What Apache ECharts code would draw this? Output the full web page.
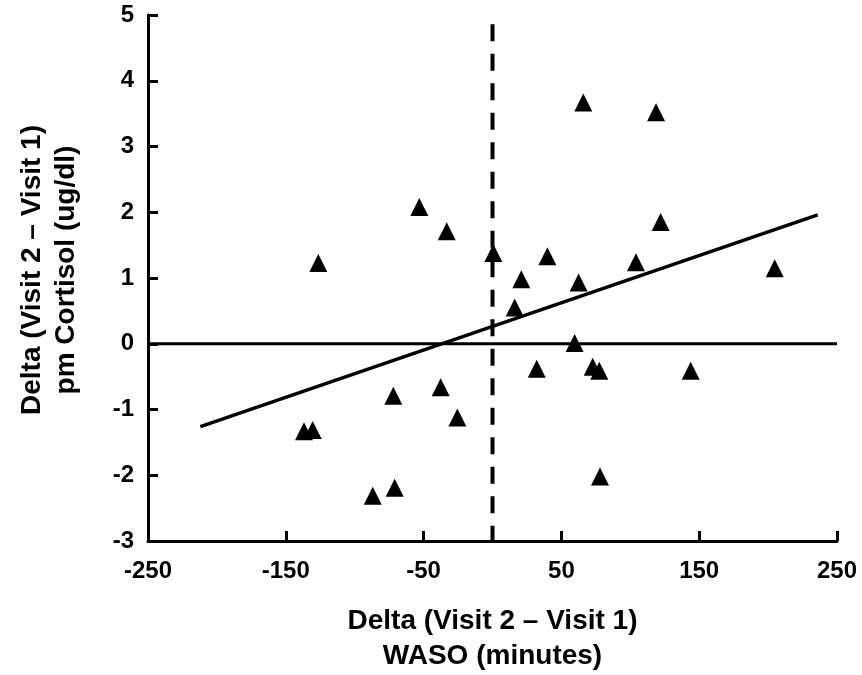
<!DOCTYPE html>
<html>
<head>
<meta charset="utf-8">
<script src="https://cdn.jsdelivr.net/npm/echarts@6/dist/echarts.min.js"></script>
<style>html,body{margin:0;padding:0;background:#fff}#c{width:862px;height:675px}</style>
</head>
<body>
<div id="c"></div>
<script>
// Data
var wasoDelta = [-126.4, -53.1, -33.2, 0.6, -136.8, -130.5, -72.0, -37.6, -25.5, -86.9, -71.0,
                 65.9, 118.7, 122.0, 39.8, 20.9, 104.1, 62.5, 16.1, 204.8, 59.6, 32.1, 72.7, 77.5, 143.8, 78.0];
var cortisolDelta = [1.23, 2.08, 1.71, 1.38, -1.33, -1.31, -0.79, -0.66, -1.12, -2.31, -2.19,
                     3.67, 3.52, 1.85, 1.33, 0.98, 1.24, 0.93, 0.55, 1.15, 0.01, -0.38, -0.35, -0.41, -0.41, -2.02];
var fitX = [-212, 236];
var fitY = [-1.26, 1.96];
var zeroLineX = [-250, 250];
var zeroLineY = [0, 0];
var dashLineX = [0, 0];
var dashLineY = [4.86, -3];
var xTicks = [-250, -150, -50, 50, 150, 250];
var yTicks = [-3, -2, -1, 0, 1, 2, 3, 4, 5];

function pairs(a, b) { return a.map(function (v, i) { return [v, b[i]]; }); }

var FONT = "'Liberation Sans', Arial, sans-serif";
var chart = echarts.init(document.getElementById('c'));
chart.setOption({
  animation: false,
  backgroundColor: '#ffffff',
  grid: { left: 148, right: 25, top: 15, bottom: 134, containLabel: false, outerBoundsMode: 'none' },
  xAxis: {
    type: 'value', min: xTicks[0], max: xTicks[xTicks.length - 1], interval: 100,
    name: 'Delta (Visit 2 \u2013 Visit 1)\nWASO (minutes)',
    nameLocation: 'middle', nameGap: 63,
    nameTextStyle: { fontFamily: FONT, fontWeight: 'bold', fontSize: 28, color: '#000', lineHeight: 35 },
    axisLine: { show: true, onZero: false, lineStyle: { color: '#000', width: 3 } },
    axisTick: { show: true, inside: true, length: 10, lineStyle: { color: '#000', width: 3 } },
    axisLabel: { fontFamily: FONT, fontWeight: 'bold', fontSize: 24, color: '#000', margin: 18 },
    splitLine: { show: false }
  },
  yAxis: {
    type: 'value', min: yTicks[0], max: yTicks[yTicks.length - 1], interval: 1,
    name: 'Delta (Visit 2 \u2013 Visit 1)\npm Cortisol (ug/dl)',
    nameLocation: 'middle', nameGap: 65, nameRotate: 90,
    nameTextStyle: { fontFamily: FONT, fontWeight: 'bold', fontSize: 28, color: '#000', lineHeight: 34, padding: [0, 0, 0, 16] },
    axisLine: { show: true, onZero: false, lineStyle: { color: '#000', width: 3 } },
    axisTick: { show: true, inside: true, length: 10, lineStyle: { color: '#000', width: 3 } },
    axisLabel: { fontFamily: FONT, fontWeight: 'bold', fontSize: 24, color: '#000', margin: 14 },
    splitLine: { show: false }
  },
  series: [
    {
      type: 'line', data: pairs(zeroLineX, zeroLineY), symbol: 'none', silent: true,
      lineStyle: { color: '#000', width: 3 }, z: 1
    },
    {
      type: 'line', data: pairs(dashLineX, dashLineY), symbol: 'none', silent: true,
      lineStyle: { color: '#000', width: 4, type: [17, 12.5], cap: 'butt' }, z: 1
    },
    {
      type: 'line', data: pairs(fitX, fitY), symbol: 'none', silent: true,
      lineStyle: { color: '#000', width: 3.5 }, z: 2
    },
    {
      type: 'scatter', data: pairs(wasoDelta, cortisolDelta), symbol: 'triangle', symbolSize: [18, 18],
      itemStyle: { color: '#000', opacity: 1 }, z: 3
    }
  ]
});
</script>
</body>
</html>
